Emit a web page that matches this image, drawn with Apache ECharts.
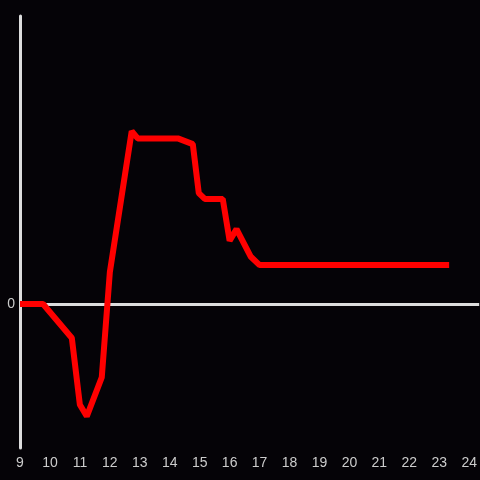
<!DOCTYPE html>
<html>
<head>
<meta charset="utf-8">
<script src="https://cdn.jsdelivr.net/npm/echarts@6/dist/echarts.min.js"></script>
<style>
  html, body { margin: 0; padding: 0; background: #050307; }
  #chart { width: 480px; height: 480px; }
</style>
</head>
<body>
<div id="chart"></div>
<script>
const hours = [9, 9.77, 10.73, 11.0, 11.23, 11.73, 12.0, 12.73, 12.93, 14.27, 14.77, 14.97, 15.17, 15.77, 16.0, 16.23, 16.7, 17.0, 23.33];
const values = [0, 0, -0.236, -0.70, -0.78, -0.51, 0.22, 1.20, 1.15, 1.15, 1.11, 0.77, 0.73, 0.73, 0.44, 0.52, 0.33, 0.27, 0.27];

const chart = echarts.init(document.getElementById('chart'));
chart.setOption({
    backgroundColor: '#050307',
    animation: false,
    grid: { left: 20, right: 0, top: 16, bottom: 32 },
    xAxis: {
        type: 'value',
        min: 9,
        max: 24.333,
        interval: 1,
        axisLine: { show: false },
        axisTick: { show: false },
        splitLine: { show: false },
        axisLabel: { color: '#cccccc', fontSize: 14, fontFamily: 'Liberation Sans', margin: 8 }
    },
    yAxis: {
        type: 'value',
        min: -1,
        max: 2,
        interval: 1,
        axisLine: { show: true, onZero: false, lineStyle: { color: '#dddddd', width: 3 } },
        axisTick: { show: false },
        splitLine: { show: false },
        axisLabel: {
            color: '#cccccc', fontSize: 14, fontFamily: 'Liberation Sans', margin: 5,
            formatter: v => (v === 0 ? '0' : '')
        }
    },
    series: [{
        type: 'line',
        data: hours.map((h, i) => [h, values[i]]),
        symbol: 'none',
        lineStyle: { color: '#ff0000', width: 6 },
        markLine: {
            silent: true,
            symbol: 'none',
            label: { show: false },
            lineStyle: { color: '#dddddd', width: 3, type: 'solid' },
            data: [{ yAxis: 0 }],
            z: 1
        },
        z: 3
    }]
});
</script>
</body>
</html>
